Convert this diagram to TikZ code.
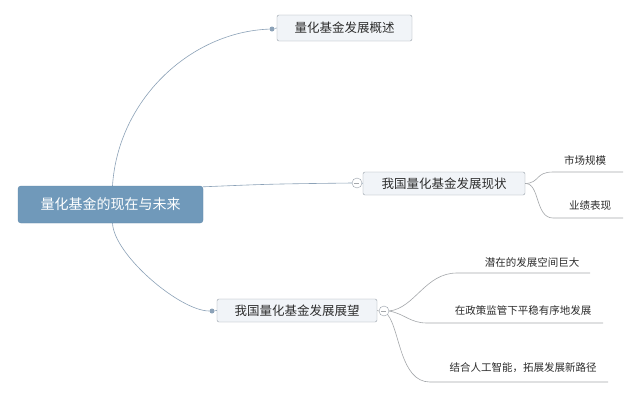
\documentclass[tikz,border=0pt]{standalone}
\usepackage{fontspec}
\newfontfamily\cjk{Noto Sans CJK SC}
\definecolor{rootblue}{RGB}{112,153,186}
\definecolor{rootedge}{RGB}{96,136,170}
\definecolor{boxfill}{RGB}{241,244,248}
\definecolor{boxedge}{RGB}{150,158,168}
\definecolor{linkblue}{RGB}{140,162,184}
\definecolor{leafgray}{RGB}{165,168,172}
\definecolor{textgray}{RGB}{45,45,45}
\tikzset{
  rootbox/.style={draw=rootedge, fill=rootblue, rounded corners=3pt, text=white,
    font=\cjk\fontsize{14}{16}\selectfont, inner sep=0pt},
  topicbox/.style={draw=boxedge, fill=boxfill, rounded corners=2pt, text=textgray,
    font=\cjk\fontsize{12.5}{14}\selectfont, inner sep=0pt},
  leaftext/.style={text=textgray, font=\cjk\fontsize{10.5}{12}\selectfont, inner sep=1pt},
  link/.style={draw=linkblue, line width=0.6pt},
  leafline/.style={draw=leafgray, line width=0.6pt},
  joint/.style={circle, fill=linkblue, minimum size=5pt, inner sep=0pt},
  fold/.style={circle, draw=boxedge, fill=white, minimum size=10pt, inner sep=0pt}
}
\begin{document}
\begin{tikzpicture}[x=1pt, y=-1pt]
    \useasboundingbox[fill=white] (0,0) rectangle (640,400);

    % Central topic
    \node[rootbox, minimum width=185pt, minimum height=37pt] (root) at (110.5,204.5) {量化基金的现在与未来};

    % Main topics
    \node[topicbox, minimum width=135pt, minimum height=26pt] (over) at (344.5,28) {量化基金发展概述};
    \node[topicbox, minimum width=162pt, minimum height=23pt] (now) at (444,183.5) {我国量化基金发展现状};
    \node[topicbox, minimum width=160pt, minimum height=23pt] (future) at (297,310.5) {我国量化基金发展展望};

    \node[joint] (jover) at (272,29) {};
    \node[joint] (jfuture) at (212,311) {};
    \node[fold] (fnow) at (357,183) {};
    \node[fold] (ffuture) at (384,311) {};
    \draw[leafgray, line width=0.6pt] (fnow.west) ++(2.5pt,0) -- ++(5pt,0);
    \draw[leafgray, line width=0.6pt] (ffuture.west) ++(2.5pt,0) -- ++(5pt,0);

    \draw[link] ([xshift=2pt]root.north) .. controls (118,100) and (190,32) .. (jover);
    \draw[link] (jover) -- (over.west);
    \draw[link] ([yshift=-1pt]root.north east) .. controls (270,184) .. (fnow.west);
    \draw[link] (fnow.east) -- (now.west);
    \draw[link] ([xshift=2pt]root.south) .. controls (114,255) and (180,311) .. (jfuture);
    \draw[link] (jfuture) -- (future.west);
    \draw[leafline] (future.east) -- (ffuture.west);

    % Subtopics of now
    \coordinate (a1) at (553,172);  \coordinate (a2) at (623,172);
    \coordinate (b1) at (553,218);  \coordinate (b2) at (623,218);
    \node[leaftext] (scale) at (585,160) {市场规模};
    \node[leaftext] (perf) at (590,206) {业绩表现};
    \draw[leafline] (now.east) .. controls (540,183) and (535,172) .. (a1) -- (a2);
    \draw[leafline] (now.east) .. controls (540,183) and (535,218) .. (b1) -- (b2);

    % Subtopics of future
    \coordinate (c1) at (457,273);  \coordinate (c2) at (590,273);
    \coordinate (d1) at (427,323);  \coordinate (d2) at (603,323);
    \coordinate (e1) at (430,382);  \coordinate (e2) at (608,382);
    \node[leaftext] (space) at (532,262) {潜在的发展空间巨大};
    \node[leaftext] (policy) at (523,310) {在政策监管下平稳有序地发展};
    \node[leaftext] (ai) at (523,368) {结合人工智能，拓展发展新路径};
    \draw[leafline] (ffuture.east) .. controls (415,308) and (425,273) .. (c1) -- (c2);
    \draw[leafline] (ffuture.east) .. controls (405,314) and (410,323) .. (d1) -- (d2);
    \draw[leafline] (ffuture.south east) .. controls (400,330) and (400,382) .. (e1) -- (e2);
\end{tikzpicture}
\end{document}
